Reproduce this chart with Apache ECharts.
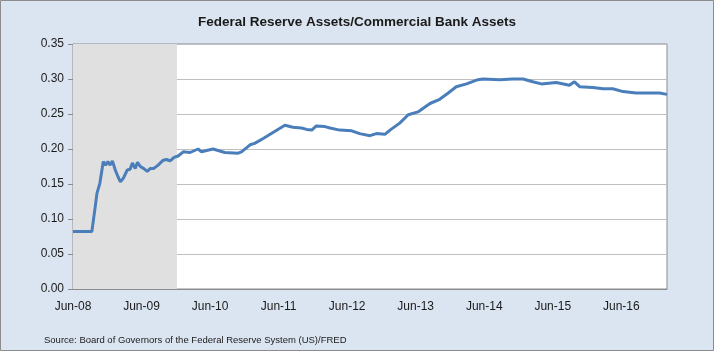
<!DOCTYPE html>
<html>
<head>
<meta charset="utf-8">
<script src="https://cdn.jsdelivr.net/npm/echarts@6/dist/echarts.min.js"></script>
<style>
  html, body { margin: 0; padding: 0; }
  #chart { width: 714px; height: 351px; }
</style>
</head>
<body>
<div id="chart"></div>
<script>
// x = months since Jun-08, y = ratio of Fed assets to commercial bank assets
const months = [0, 3.3, 3.9, 4.2, 4.7, 5.3, 5.7, 6.1, 6.5, 6.9, 7.4, 7.9, 8.3, 8.8, 9.1, 9.5, 10.0, 10.4, 10.9, 11.3, 11.8, 12.4, 13.0, 13.5, 14.1, 14.9, 15.8, 16.4, 17.0, 17.7, 18.4,
  19.3, 20.5, 21.9, 22.5, 24.5, 26.6, 28.9, 29.5, 31.0, 31.8, 33.3, 35.3, 37.1, 38.5, 40.0, 40.9, 41.8, 42.6, 44.1,
  45.0, 46.7, 48.8, 50.2, 52.0, 53.1, 54.6, 55.5, 57.2, 58.7, 60.4, 62.5, 64.2, 65.7, 67.1, 68.9, 70.9,
  71.8, 74.7, 77.0, 78.8, 80.5, 82.0, 84.6, 86.9, 87.8, 88.7, 91.0, 92.8, 94.5, 96.3, 98.6, 100.9, 102.7, 104];
const ratio = [0.082, 0.082, 0.118, 0.137, 0.151, 0.182, 0.177, 0.182, 0.177, 0.183, 0.170, 0.160, 0.153, 0.158, 0.157, 0.170, 0.171, 0.180, 0.172, 0.181, 0.175, 0.172, 0.168, 0.172, 0.172, 0.177, 0.184, 0.185, 0.183, 0.188, 0.190,
  0.196, 0.195, 0.200, 0.196, 0.200, 0.195, 0.194, 0.196, 0.206, 0.208, 0.215, 0.225, 0.234, 0.231, 0.230, 0.228, 0.227, 0.233, 0.232,
  0.230, 0.227, 0.226, 0.222, 0.219, 0.222, 0.221, 0.227, 0.237, 0.249, 0.253, 0.265, 0.271, 0.280, 0.289, 0.293, 0.299,
  0.300, 0.299, 0.300, 0.300, 0.296, 0.293, 0.295, 0.291, 0.296, 0.289, 0.288, 0.286, 0.286, 0.282, 0.280, 0.280, 0.280, 0.278];
const xLabels = ['Jun-08', 'Jun-09', 'Jun-10', 'Jun-11', 'Jun-12', 'Jun-13', 'Jun-14', 'Jun-15', 'Jun-16'];
const shadeRange = [0, 18.2];

const chart = echarts.init(document.getElementById('chart'));
const textColor = '#1a1a1a';
const font = 'Liberation Sans, Arial, sans-serif';

chart.setOption({
  backgroundColor: '#DBE5F1',
  animation: false,
  title: {
    text: 'Federal Reserve Assets/Commercial Bank Assets',
    left: 'center',
    top: 10,
    textStyle: { fontSize: 13.5, fontWeight: 'bold', color: textColor, fontFamily: font }
  },
  graphic: [{
    type: 'rect',
    shape: { x: 0.5, y: 0.5, width: 713, height: 350 },
    style: { fill: 'none', stroke: '#8c8c8c', lineWidth: 1 }
  }, {
    type: 'text',
    left: 44,
    top: 335,
    style: {
      text: 'Source: Board of Governors of the Federal Reserve System (US)/FRED',
      fontSize: 9.5, fill: textColor, fontFamily: font
    }
  }],
  grid: {
    left: 73, right: 47, top: 44, bottom: 62,
    show: true, backgroundColor: '#fff', borderColor: '#8c8c8c', borderWidth: 1
  },
  xAxis: {
    type: 'value',
    min: 0,
    max: 104,
    interval: 12,
    axisLine: { lineStyle: { color: '#8c8c8c' } },
    axisTick: { show: false },
    splitLine: { show: false },
    axisLabel: {
      showMaxLabel: false,
      margin: 12,
      color: textColor, fontSize: 12, fontFamily: font,
      formatter: v => xLabels[Math.round(v / 12)] || ''
    }
  },
  yAxis: {
    type: 'value',
    min: 0,
    max: 0.35,
    interval: 0.05,
    axisLine: { show: true, lineStyle: { color: '#8c8c8c' } },
    axisTick: { show: true, length: 5, lineStyle: { color: '#8c8c8c' } },
    splitLine: { lineStyle: { color: '#bfbfbf' } },
    axisLabel: {
      margin: 9,
      color: textColor, fontSize: 12, fontFamily: font,
      formatter: v => v.toFixed(2)
    }
  },
  series: [{
    type: 'line',
    data: months.map((m, i) => [m, ratio[i]]),
    showSymbol: false,
    lineStyle: { color: '#4A7EBB', width: 3 },
    markArea: {
      silent: true,
      itemStyle: { color: '#E0E0E0' },
      data: [[{ xAxis: shadeRange[0] }, { xAxis: shadeRange[1] }]]
    },
    z: 3
  }]
});
</script>
</body>
</html>
